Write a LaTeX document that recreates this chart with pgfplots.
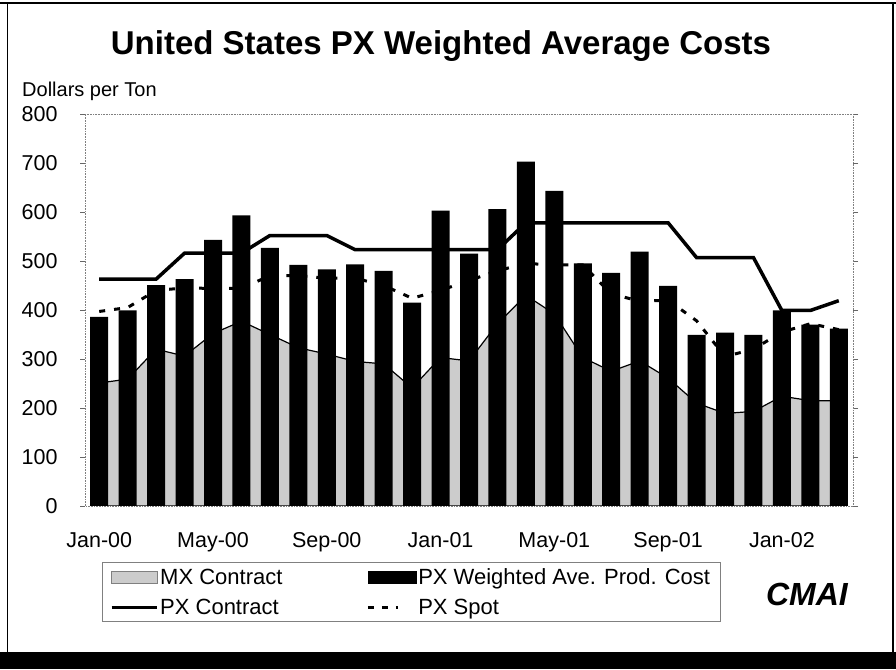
\documentclass[border=0pt]{standalone}
\usepackage{fontspec}
\setmainfont{Liberation Sans}
\usepackage{pgfplots}
\pgfplotsset{compat=1.18}
\usepackage{pgfplotstable}

\pgfplotstableread{
m bar mx contract spot
0 386 251 463 397
1 399 259 463 405
2 451 320 463 440
3 463 306 516 445
4 543 352 516 444
5 593 377 516 444
6 527 350 552 470
7 492 323 552 470
8 483 310 552 465
9 493 295 523 465
10 480 290 523 450
11 415 241 523 424
12 603 303 523 440
13 515 296 523 460
14 606 372 523 480
15 703 430 578 495
16 643 392 578 492
17 495 303 578 492
18 476 275 578 433
19 519 296 578 418
20 449 261 578 420
21 349 210 507 378
22 354 189 507 305
23 349 193 507 320
24 399 224 399 355
25 370 215 399 372
26 362 215 419 360
}\data

\begin{document}
\begin{tikzpicture}
\useasboundingbox (0pt,0pt) rectangle (896pt,669pt);
\fill[white] (0pt,0pt) rectangle (896pt,669pt);
% frame and bottom band
\fill[black] (0pt,0pt) rectangle (896pt,17pt);
\draw[black, line width=0.8pt] (7pt,17pt) -- (7pt,666pt);
\draw[black, line width=1.2pt] (893pt,17pt) -- (893pt,666pt);
\draw[black, line width=1.5pt] (0pt,666pt) -- (896pt,666pt);
% title
\node[font=\fontsize{33}{38}\selectfont\bfseries] at (441pt,623pt) {United States PX Weighted Average Costs};
\node[anchor=west, font=\fontsize{20}{24}\selectfont, inner sep=0pt] at (22pt,578pt) {Dollars per Ton};
% logo
\node[font=\fontsize{32}{36}\selectfont\bfseries\itshape] at (807pt,75pt) {CMAI};

\begin{axis}[
  at={(85pt,163pt)}, anchor=south west,
  width=768pt, height=392pt, scale only axis,
  xmin=-0.5, xmax=26.5, ymin=0, ymax=800,
  xtick={0,4,8,12,16,20,24},
  xticklabels={Jan-00,May-00,Sep-00,Jan-01,May-01,Sep-01,Jan-02},
  ytick={0,100,...,800},
  tick label style={font=\fontsize{21.5}{25}\selectfont},
  xticklabel style={yshift=-18pt},
  yticklabel style={xshift=-19pt},
  /pgf/number format/assume math mode=true,
  x tick style={draw=none},
  y tick style={black!60, line width=0.6pt},
  tick align=outside, major tick length=5pt,
  axis line style={black!50, densely dotted, line width=0.6pt},
  legend columns=2,
  legend style={at={(0.022,-0.143)}, anchor=north west,
    draw=black!50, line width=0.6pt,
    font=\fontsize{22}{26}\selectfont,
    /tikz/every even column/.append style={column sep=82pt},
    row sep=9pt, inner xsep=8pt, inner ysep=4pt},
  legend cell align=left,
]
\addplot[forget plot, fill=black!20, draw=black, line width=1.2pt] table[x=m,y=mx] {\data} \closedcycle;
\addplot[forget plot, black, line width=3pt, dash pattern=on 6pt off 9pt] table[x=m,y=spot] {\data};
\addplot[forget plot, ybar, bar width=18pt, fill=black, draw=none] table[x=m,y=bar] {\data};
\addplot[forget plot, black, line width=3.5pt] table[x=m,y=contract] {\data};

\addlegendimage{legend image code/.code={\fill[black!20, draw=black!50, line width=0.4pt] (0pt,-6pt) rectangle (45pt,6pt);}}
\addlegendentry{MX Contract}
\addlegendimage{legend image code/.code={\fill[black] (0pt,-6pt) rectangle (48pt,6pt);}}
\addlegendentry{PX Weighted Ave. Prod. Cost}
\addlegendimage{legend image code/.code={\draw[black, line width=3pt] (0pt,0pt) -- (45pt,0pt);}}
\addlegendentry{PX Contract}
\addlegendimage{legend image code/.code={\draw[black, line width=3pt, dash pattern=on 6pt off 8pt on 6pt off 8pt on 2pt off 20pt] (0pt,0pt) -- (45pt,0pt);}}
\addlegendentry{PX Spot}
\end{axis}
\end{tikzpicture}
\end{document}
